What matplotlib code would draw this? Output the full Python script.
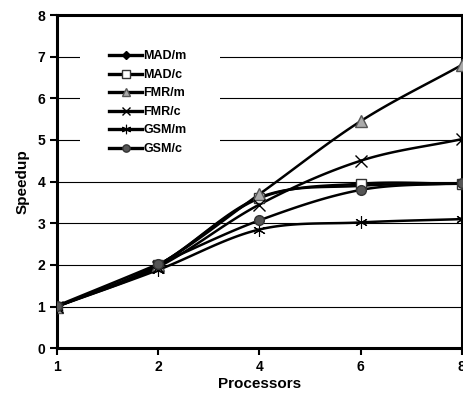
import numpy as np
import matplotlib
matplotlib.use("Agg")
from matplotlib import pyplot as plt
from matplotlib.patches import Rectangle

plt.rcParams['font.family'] = ['Liberation Sans', 'DejaVu Sans']
plt.rcParams['font.weight'] = 'bold'

processors = ["1", "2", "4", "6", "8"]
mad_m = [1.0, 2.0, 3.62, 3.9, 3.95]
mad_c = [1.0, 2.0, 3.6, 3.95, 3.95]
fmr_m = [1.0, 2.0, 3.7, 5.45, 6.8]
fmr_c = [1.0, 1.95, 3.45, 4.5, 5.02]
gsm_m = [1.0, 1.88, 2.85, 3.02, 3.1]
gsm_c = [1.02, 2.02, 3.07, 3.8, 3.97]

series = [
    ("MAD/m", mad_m, dict(marker="D", mfc="black", mec="black", ms=5)),
    ("MAD/c", mad_c, dict(marker="s", mfc="white", mec="#333333", ms=7)),
    ("FMR/m", fmr_m, dict(marker="^", mfc="#aaaaaa", mec="#555555", ms=8)),
    ("FMR/c", fmr_c, dict(marker="x", mfc="none", mec="black", ms=8, mew=1.0)),
    ("GSM/m", gsm_m, dict(marker=(6, 2, 0), mfc="none", mec="black", ms=9, mew=0.8)),
    ("GSM/c", gsm_c, dict(marker="o", mfc="#555555", mec="#333333", ms=7)),
]


def smooth(y, n=30):
    # catmull-rom through the points, like excel's smoothed line
    y = np.asarray(y, float)
    x = np.arange(len(y), dtype=float)
    px = np.concatenate([[2 * x[0] - x[1]], x, [2 * x[-1] - x[-2]]])
    py = np.concatenate([[2 * y[0] - y[1]], y, [2 * y[-1] - y[-2]]])
    xs, ys = [], []
    for i in range(1, len(px) - 2):
        t = np.linspace(0, 1, n)
        for arr, out in ((px, xs), (py, ys)):
            p0, p1, p2, p3 = arr[i - 1:i + 3]
            out.append(0.5 * ((2 * p1) + (-p0 + p2) * t
                              + (2 * p0 - 5 * p1 + 4 * p2 - p3) * t ** 2
                              + (-p0 + 3 * p1 - 3 * p2 + p3) * t ** 3))
    return np.concatenate(xs), np.concatenate(ys)


fig = plt.figure(figsize=(4.64, 3.97), dpi=100)
ax = fig.add_axes([0.123, 0.123, 0.872, 0.839])

xi = np.arange(len(processors))
handles = []
for name, vals, st in series:
    sx, sy = smooth(vals)
    ax.plot(sx, sy, color="black", lw=1.8, zorder=3)
    ax.plot(xi, vals, ls="none", zorder=4, **st)
    h, = ax.plot([], [], color="black", lw=2.4, **st)
    handles.append((h, name))

ax.set_xlim(0, len(processors) - 1)
ax.set_ylim(0, 8)
ax.set_xticks(xi)
ax.set_xticklabels(processors)
ax.set_yticks(range(0, 9))
ax.yaxis.grid(True, color="black", lw=0.8, zorder=0)
ax.set_axisbelow(True)
for s in ax.spines.values():
    s.set_linewidth(2.2)
ax.tick_params(axis="both", labelsize=10, width=1.5, length=5, direction="out")
ax.set_xlabel("Processors", fontsize=11, fontweight="bold", labelpad=2)
ax.set_ylabel("Speedup", fontsize=11, fontweight="bold", labelpad=6)

# white legend area that breaks the gridlines
ax.add_patch(Rectangle((0.057, 0.565), 0.346, 0.345, transform=ax.transAxes,
                       facecolor="white", edgecolor="none", zorder=1))

leg = ax.legend([h for h, _ in handles], [n for _, n in handles],
                loc="upper left", bbox_to_anchor=(0.12, 0.905),
                frameon=False, handlelength=2.6, handletextpad=0.1,
                labelspacing=0.52, borderpad=0.3, borderaxespad=0,
                markerscale=0.75,
                prop={"weight": "bold", "size": 9})

fig.savefig("out.png", dpi=100)
